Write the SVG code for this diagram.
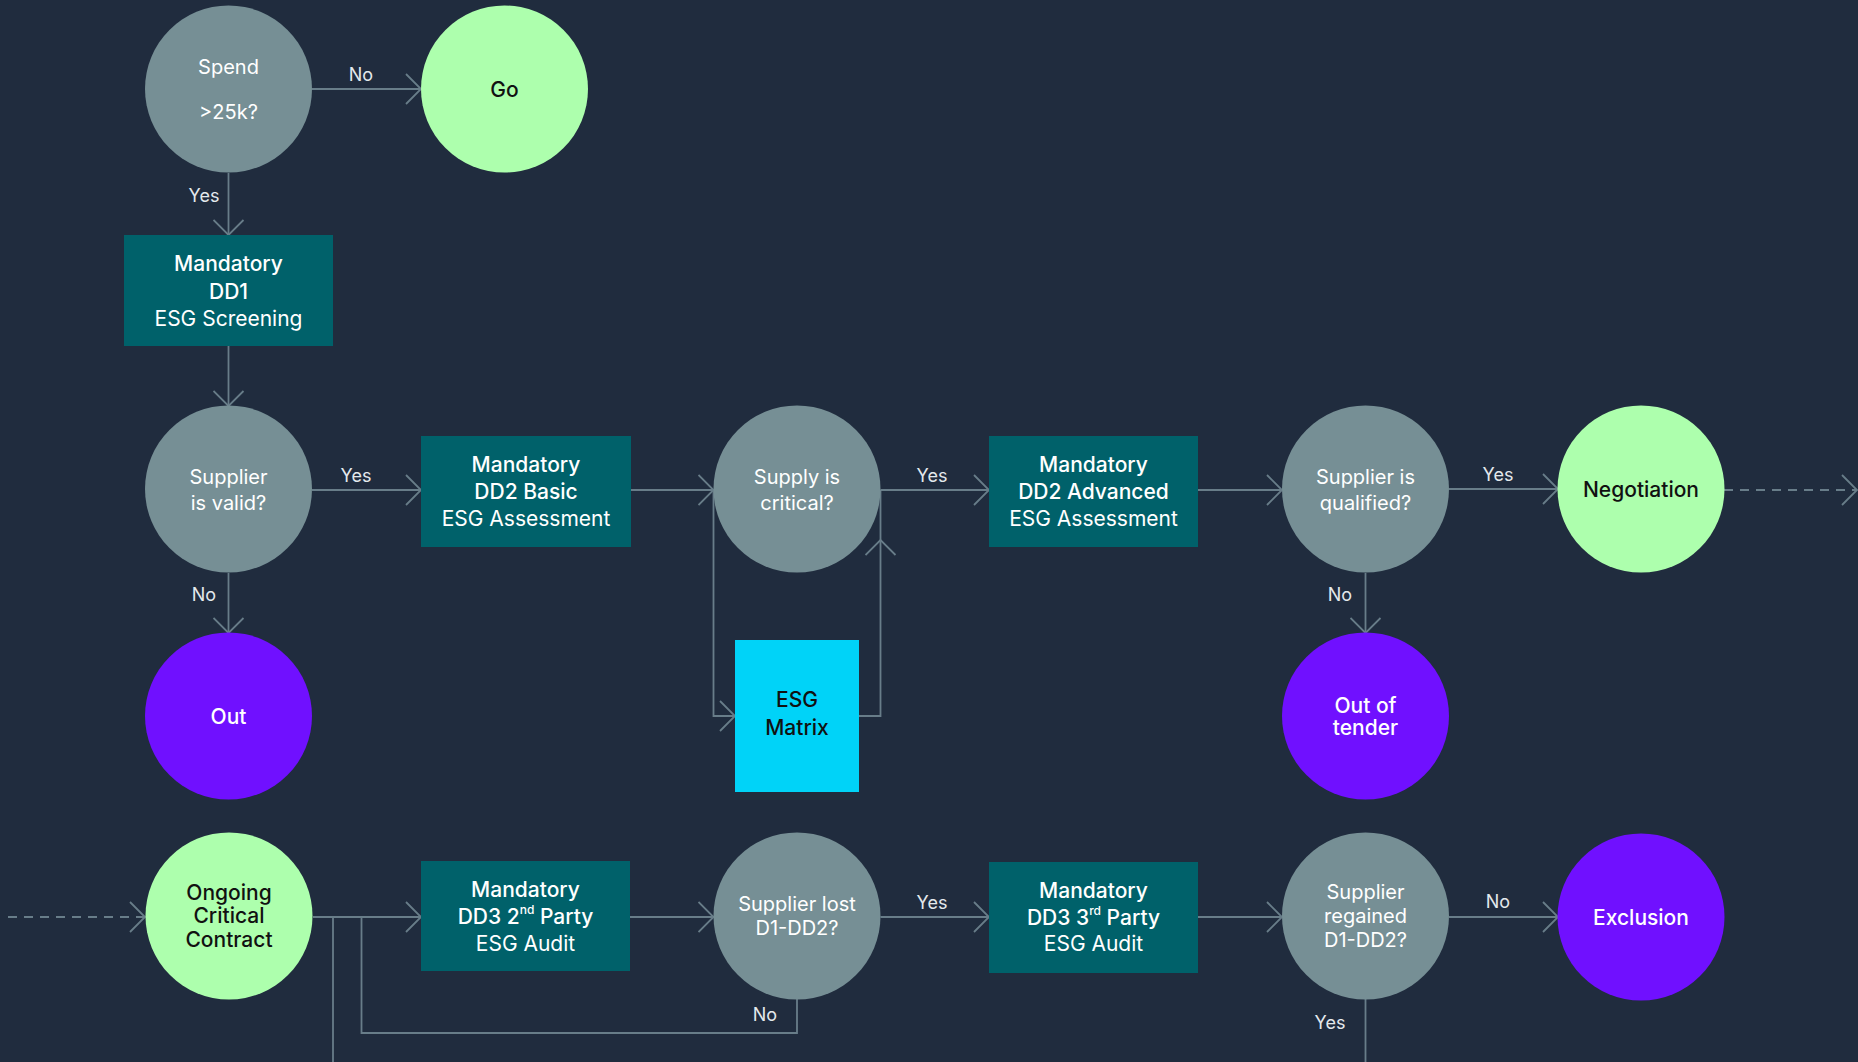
<svg xmlns="http://www.w3.org/2000/svg" width="1858" height="1062" viewBox="0 0 1858 1062">
<defs>
<marker id="chev" viewBox="0 0 17 32" refX="16" refY="16" markerWidth="17" markerHeight="32" markerUnits="userSpaceOnUse" orient="auto">
<path d="M1,1 L16,16 L1,31" fill="none" stroke="#687d89" stroke-width="1.8"/>
</marker>
<style>
.bg{fill:#202c3e}
.q{fill:#768f95}
.box{fill:#00616a}
.ok{fill:#adffad}
.bad{fill:#7010ff}
.mx{fill:#00d3f8}
.ln{fill:none;stroke:#687d89;stroke-width:1.8}
.dash{stroke-dasharray:9 7}
text{font-family:Inter,"Liberation Sans",sans-serif;text-anchor:middle;dominant-baseline:central}
.tq{fill:#ffffff;font-size:20px}
.tb{fill:#ffffff;font-size:21px;font-weight:500}
.tr{fill:#ffffff;font-size:21px;font-weight:400}
.tk{fill:#111111;font-size:21px;font-weight:500}
.tw{fill:#ffffff;font-size:21px;font-weight:500}
.lb{fill:#e4e9ec;font-size:18px}
.sup{font-size:12px}
</style>
</defs>
<rect class="bg" x="0" y="0" width="1858" height="1062"/>

<g id="connectors">
<line class="ln" x1="312" y1="89" x2="421" y2="89" marker-end="url(#chev)"/>
<line class="ln" x1="228.5" y1="173" x2="228.5" y2="235" marker-end="url(#chev)"/>
<line class="ln" x1="228.5" y1="346" x2="228.5" y2="406" marker-end="url(#chev)"/>
<line class="ln" x1="312" y1="490" x2="421" y2="490" marker-end="url(#chev)"/>
<line class="ln" x1="228.5" y1="573" x2="228.5" y2="633" marker-end="url(#chev)"/>
<line class="ln" x1="631" y1="490" x2="713.5" y2="490" marker-end="url(#chev)"/>
<path class="ln" d="M713.5,490 V716 H735" marker-end="url(#chev)"/>
<path class="ln" d="M859,716 H880.5 V540" marker-end="url(#chev)"/>
<line class="ln" x1="880.5" y1="540" x2="880.5" y2="490"/>
<line class="ln" x1="880.5" y1="490" x2="989" y2="490" marker-end="url(#chev)"/>
<line class="ln" x1="1198" y1="490" x2="1282" y2="490" marker-end="url(#chev)"/>
<line class="ln" x1="1449" y1="489" x2="1558" y2="489" marker-end="url(#chev)"/>
<line class="ln" x1="1365.5" y1="573" x2="1365.5" y2="633" marker-end="url(#chev)"/>
<line class="ln dash" x1="1724" y1="490" x2="1857" y2="490" marker-end="url(#chev)"/>
<line class="ln dash" x1="8" y1="917" x2="145" y2="917" marker-end="url(#chev)"/>
<line class="ln" x1="313" y1="917" x2="421" y2="917" marker-end="url(#chev)"/>
<line class="ln" x1="333" y1="917" x2="333" y2="1062"/>
<path class="ln" d="M361.5,917 V1033 H797 V999"/>
<line class="ln" x1="630" y1="917" x2="713.5" y2="917" marker-end="url(#chev)"/>
<line class="ln" x1="880.5" y1="917" x2="989" y2="917" marker-end="url(#chev)"/>
<line class="ln" x1="1198" y1="917" x2="1282" y2="917" marker-end="url(#chev)"/>
<line class="ln" x1="1449" y1="917" x2="1558" y2="917" marker-end="url(#chev)"/>
<line class="ln" x1="1365.5" y1="999" x2="1365.5" y2="1062"/>
<text class="lb" x="361" y="74">No</text>
<text class="lb" x="204" y="195">Yes</text>
<text class="lb" x="356" y="475">Yes</text>
<text class="lb" x="204" y="594">No</text>
<text class="lb" x="932" y="475">Yes</text>
<text class="lb" x="1498" y="474">Yes</text>
<text class="lb" x="1340" y="594">No</text>
<text class="lb" x="765" y="1014">No</text>
<text class="lb" x="932" y="902">Yes</text>
<text class="lb" x="1498" y="901">No</text>
<text class="lb" x="1330" y="1022">Yes</text>
</g>

<g id="spend">
<circle class="q" cx="228.5" cy="89" r="83.5"/>
<text class="tq" x="228.5" y="67">Spend</text>
<text class="tq" x="228.5" y="112">&gt;25k?</text>
</g>
<g id="go">
<circle class="ok" cx="504.5" cy="89" r="83.5"/>
<text class="tk" x="504.5" y="89">Go</text>
</g>
<g id="dd1">
<rect class="box" x="124" y="235" width="209" height="111"/>
<text class="tb" x="228.5" y="263">Mandatory</text>
<text class="tb" x="228.5" y="291">DD1</text>
<text class="tr" x="228.5" y="318">ESG Screening</text>
</g>
<g id="supplier-valid">
<circle class="q" cx="228.5" cy="489" r="83.5"/>
<text class="tq" x="228.5" y="477">Supplier</text>
<text class="tq" x="228.5" y="503">is valid?</text>
</g>
<g id="out">
<circle class="bad" cx="228.5" cy="716" r="83.5"/>
<text class="tw" x="228.5" y="716">Out</text>
</g>
<g id="dd2-basic">
<rect class="box" x="421" y="436" width="210" height="111"/>
<text class="tb" x="526" y="464">Mandatory</text>
<text class="tb" x="526" y="491">DD2 Basic</text>
<text class="tr" x="526" y="518">ESG Assessment</text>
</g>
<g id="supply-critical">
<circle class="q" cx="797" cy="489" r="83.5"/>
<text class="tq" x="797" y="477">Supply is</text>
<text class="tq" x="797" y="503">critical?</text>
</g>
<g id="esg-matrix">
<rect class="mx" x="735" y="640" width="124" height="152"/>
<text class="tk" x="797" y="699">ESG</text>
<text class="tk" x="797" y="727">Matrix</text>
</g>
<g id="dd2-advanced">
<rect class="box" x="989" y="436" width="209" height="111"/>
<text class="tb" x="1093.5" y="464">Mandatory</text>
<text class="tb" x="1093.5" y="491">DD2 Advanced</text>
<text class="tr" x="1093.5" y="518">ESG Assessment</text>
</g>
<g id="supplier-qualified">
<circle class="q" cx="1365.5" cy="489" r="83.5"/>
<text class="tq" x="1365.5" y="477">Supplier is</text>
<text class="tq" x="1365.5" y="503">qualified?</text>
</g>
<g id="negotiation">
<circle class="ok" cx="1641" cy="489" r="83.5"/>
<text class="tk" x="1641" y="489">Negotiation</text>
</g>
<g id="out-of-tender">
<circle class="bad" cx="1365.5" cy="716" r="83.5"/>
<text class="tw" x="1365.5" y="705">Out of</text>
<text class="tw" x="1365.5" y="727">tender</text>
</g>
<g id="ongoing">
<circle class="ok" cx="229" cy="916" r="83.5"/>
<text class="tk" x="229" y="892">Ongoing</text>
<text class="tk" x="229" y="915">Critical</text>
<text class="tk" x="229" y="939">Contract</text>
</g>
<g id="dd3-2nd">
<rect class="box" x="421" y="861" width="209" height="110"/>
<text class="tb" x="525.5" y="889">Mandatory</text>
<text class="tb" x="525.5" y="916">DD3 2<tspan class="sup" dy="-7">nd</tspan><tspan dy="7"> Party</tspan></text>
<text class="tr" x="525.5" y="943">ESG Audit</text>
</g>
<g id="supplier-lost">
<circle class="q" cx="797" cy="916" r="83.5"/>
<text class="tq" x="797" y="904">Supplier lost</text>
<text class="tq" x="797" y="928">D1-DD2?</text>
</g>
<g id="dd3-3rd">
<rect class="box" x="989" y="862" width="209" height="111"/>
<text class="tb" x="1093.5" y="890">Mandatory</text>
<text class="tb" x="1093.5" y="917">DD3 3<tspan class="sup" dy="-7">rd</tspan><tspan dy="7"> Party</tspan></text>
<text class="tr" x="1093.5" y="943">ESG Audit</text>
</g>
<g id="supplier-regained">
<circle class="q" cx="1365.5" cy="916" r="83.5"/>
<text class="tq" x="1365.5" y="892">Supplier</text>
<text class="tq" x="1365.5" y="916">regained</text>
<text class="tq" x="1365.5" y="940">D1-DD2?</text>
</g>
<g id="exclusion">
<circle class="bad" cx="1641" cy="917" r="83.5"/>
<text class="tw" x="1641" y="917">Exclusion</text>
</g>
</svg>
